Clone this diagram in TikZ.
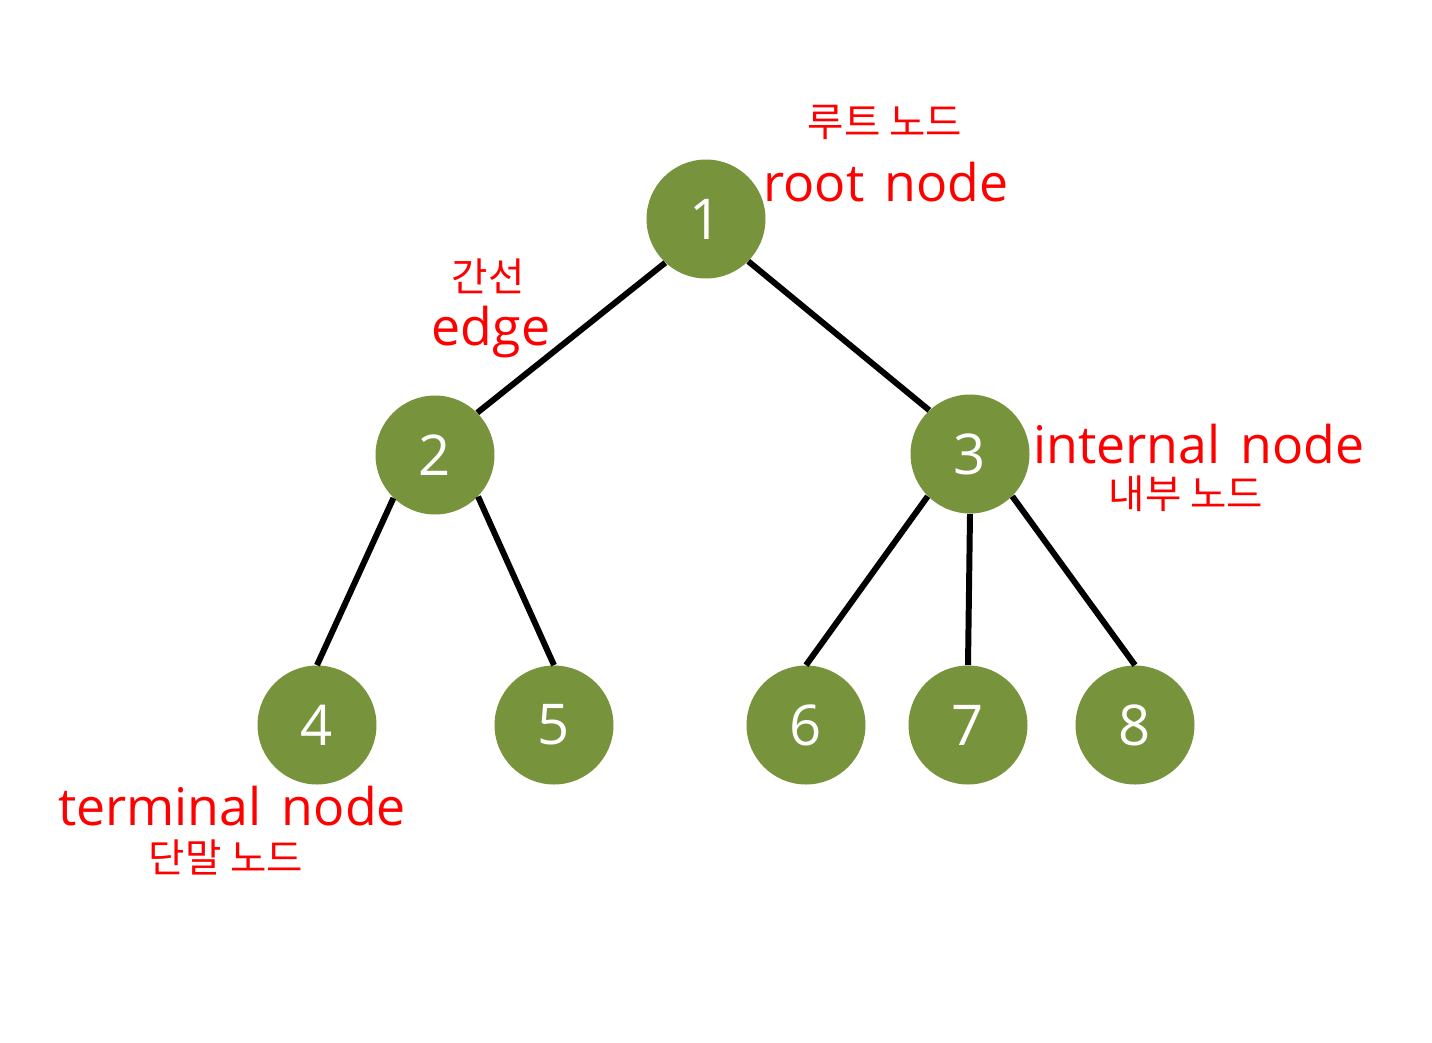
\documentclass[tikz,border=0pt]{standalone}
\usepackage{fontspec}
\setmainfont{Open Sans}[WordSpace=1.5]
\newfontfamily\krfont{Noto Sans CJK KR}
\definecolor{olive}{HTML}{77933C}
\definecolor{lblred}{HTML}{FF0000}
\begin{document}
\begin{tikzpicture}[x=0.02cm,y=-0.02cm,
  tnode/.style={circle,fill=olive,draw=none,minimum size=2.38cm,inner sep=0pt,
    text=white,font=\fontsize{32}{38}\selectfont},
  edgeline/.style={line width=3.4pt,black},
  enlabel/.style={text=lblred,inner sep=0pt,font=\fontsize{29.5}{35}\selectfont},
  krlabel/.style={text=lblred,inner sep=0pt,font=\krfont\fontsize{22.5}{27}\selectfont}]
\useasboundingbox (0,0) rectangle (1432,1042);
\node[tnode] (n1) at (706,219) {1};
\node[tnode] (n2) at (435,455) {2};
\node[tnode] (n3) at (970,454) {3};
\node[tnode] (n4) at (317,725) {4};
\node[tnode] (n5) at (554,725) {5};
\node[tnode] (n6) at (806,725) {6};
\node[tnode] (n7) at (968,725) {7};
\node[tnode] (n8) at (1135,725) {8};
\draw[edgeline] (n1.227) -- (n2.45);
\draw[edgeline] (n1.-45) -- (n3.133);
\draw[edgeline] (n2.226) -- (n4.north);
\draw[edgeline] (n2.-44) -- (n5.north);
\draw[edgeline] (n3.225) -- (n6.north);
\draw[edgeline] (n3.south) -- (n7.north);
\draw[edgeline] (n3.-45) -- (n8.north);
\node[krlabel] (k1) at (885,122) {루트 노드};
\node[enlabel,anchor=base] (e1) at (886,201) {root node};
\node[krlabel] (k2) at (488,276) {간선};
\node[enlabel,anchor=base] (e2) at (491,345) {edge};
\node[enlabel,anchor=base] (e3) at (1199,463) {internal node};
\node[krlabel] (k3) at (1186,494) {내부 노드};
\node[enlabel,anchor=base] (e4) at (232,825) {terminal node};
\node[krlabel] (k4) at (226,857) {단말 노드};
\end{tikzpicture}
\end{document}
